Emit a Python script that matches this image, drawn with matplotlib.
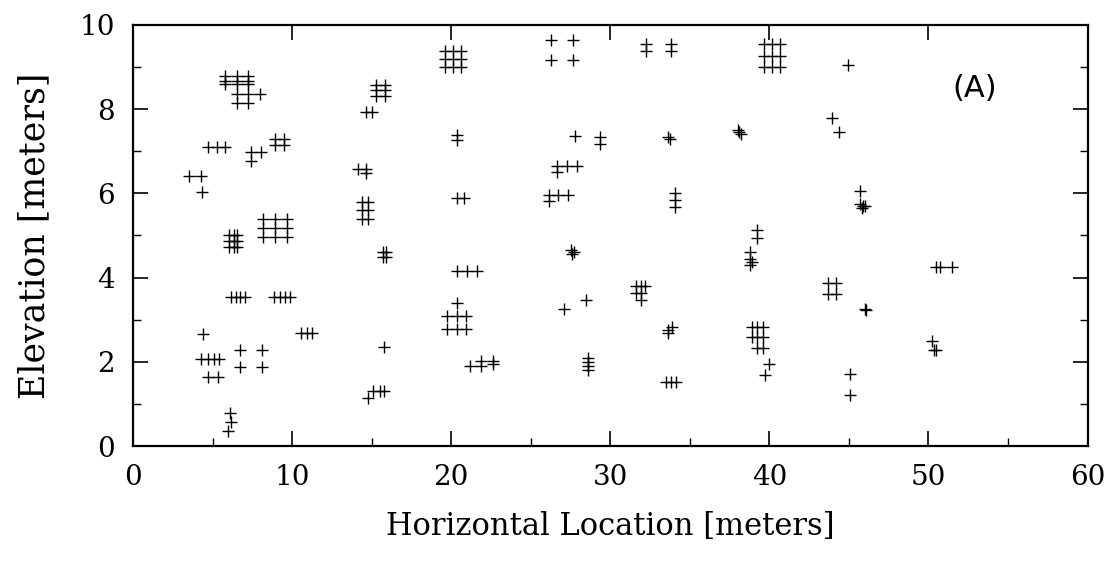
import matplotlib
matplotlib.use('Agg')
import matplotlib.pyplot as plt
from matplotlib.ticker import MultipleLocator
import numpy as np

plt.rcParams['font.family'] = 'DejaVu Serif'

# sensor positions (west part, x < 17 m)
x_west = [5.8, 6.56, 7.2, 5.8, 6.56, 7.2, 5.8, 6.56, 7.2, 6.56, 7.2, 8.0, 6.56, 7.2,
          4.69, 5.26, 5.81, 3.52, 4.27, 4.33, 7.39, 8.05, 7.39,
          8.94, 9.47, 8.94, 9.47,
          15.3, 15.84, 15.3, 15.84, 15.3, 15.84, 14.63, 14.99,
          14.14, 14.67, 14.67,
          14.42, 14.78, 14.42, 14.78, 14.42, 14.78,
          8.2, 8.94, 9.68, 8.2, 8.94, 9.68, 8.2, 8.94, 9.68,
          6.03, 6.32, 6.56, 6.03, 6.32, 6.56, 6.03, 6.32, 6.56,
          6.17, 6.45, 6.7, 7.03, 8.87, 9.25, 9.57, 9.85,
          10.57, 10.96, 11.27, 4.37,
          4.27, 4.69, 5.11, 5.43, 4.69, 5.33,
          6.71, 8.09, 6.71, 8.09, 6.07, 6.18, 5.97,
          15.7, 15.9, 15.7, 15.9, 15.8,
          15.1, 15.5, 15.8, 14.78]
y_west = [8.78, 8.78, 8.78, 8.68, 8.68, 8.68, 8.6, 8.6, 8.6, 8.35, 8.35, 8.35, 8.14, 8.14,
          7.1, 7.1, 7.1, 6.42, 6.42, 6.04, 6.99, 6.99, 6.78,
          7.28, 7.28, 7.15, 7.15,
          8.58, 8.58, 8.45, 8.45, 8.31, 8.31, 7.94, 7.94,
          6.58, 6.58, 6.49,
          5.79, 5.79, 5.61, 5.61, 5.40, 5.40,
          5.38, 5.38, 5.38, 5.18, 5.18, 5.18, 4.96, 4.96, 4.96,
          5.02, 5.02, 5.02, 4.88, 4.88, 4.88, 4.72, 4.72, 4.72,
          3.53, 3.53, 3.53, 3.53, 3.53, 3.53, 3.53, 3.53,
          2.69, 2.69, 2.69, 2.65,
          2.06, 2.06, 2.06, 2.06, 1.64, 1.64,
          2.28, 2.28, 1.87, 1.87, 0.79, 0.56, 0.35,
          4.6, 4.6, 4.5, 4.5, 2.36,
          1.30, 1.30, 1.30, 1.13]

# middle part, 19 m to 38 m
x_mid = [19.58, 20.1, 20.62, 19.58, 20.1, 20.62, 19.58, 20.1, 20.62,
         26.28, 27.67, 26.28, 27.67, 32.24, 33.8, 32.24, 33.8,
         20.37, 20.37, 27.78, 29.33, 29.33, 33.65, 33.75,
         38.0, 38.1, 38.2,
         26.64, 27.26, 27.88, 26.64, 20.37, 20.83,
         26.12, 26.74, 27.37, 26.12, 34.07, 34.07, 34.07,
         20.35, 20.97, 21.6,
         20.35, 19.75, 20.35, 20.93, 19.75, 20.35, 20.93,
         21.2, 21.9, 21.9, 22.6, 22.6,
         27.55, 27.7, 27.6, 28.45, 27.1,
         28.58, 28.58, 28.6, 28.58,
         31.6, 31.9, 32.2, 31.6, 31.9, 31.9,
         33.6, 33.9, 33.65, 33.5, 33.8, 34.1]
y_mid = [9.39, 9.39, 9.39, 9.2, 9.2, 9.2, 9.01, 9.01, 9.01,
         9.65, 9.65, 9.17, 9.17, 9.55, 9.55, 9.37, 9.37,
         7.38, 7.26, 7.37, 7.34, 7.18, 7.34, 7.3,
         7.5, 7.45, 7.4,
         6.64, 6.64, 6.64, 6.51, 5.89, 5.89,
         5.95, 5.95, 5.95, 5.81, 6.01, 5.85, 5.67,
         4.16, 4.16, 4.16,
         3.39, 3.09, 3.09, 3.09, 2.79, 2.79, 2.79,
         1.89, 1.89, 2.03, 2.03, 1.95,
         4.65, 4.6, 4.55, 3.47, 3.25,
         2.1, 2.0, 1.9, 1.8,
         3.79, 3.79, 3.79, 3.63, 3.63, 3.47,
         2.75, 2.83, 2.68, 1.52, 1.52, 1.52]

# east part, x > 38 m
x_east = [39.65, 40.17, 40.68, 39.65, 40.17, 40.68, 39.65, 40.17, 40.68,
          44.95, 43.96, 44.37, 45.7,
          45.7, 45.9, 45.8, 46.0,
          39.2, 39.2, 38.8, 38.8, 38.9, 38.8,
          43.7, 44.2, 43.7, 44.2, 46.0, 46.1,
          50.5, 50.75, 51.5, 50.2, 50.35, 50.5,
          38.9, 39.2, 39.6, 38.9, 39.2, 39.6, 39.2, 39.6,
          40.0, 39.7, 45.05, 45.05]
y_east = [9.55, 9.55, 9.55, 9.26, 9.26, 9.26, 9.0, 9.0, 9.0,
          9.06, 7.79, 7.46, 6.05,
          5.75, 5.7, 5.65, 5.7,
          5.12, 4.95, 4.6, 4.45, 4.38, 4.3,
          3.86, 3.86, 3.62, 3.62, 3.25, 3.22,
          4.25, 4.25, 4.25, 2.49, 2.28, 2.28,
          2.83, 2.83, 2.83, 2.59, 2.59, 2.59, 2.33, 2.33,
          1.95, 1.68, 1.72, 1.2]

horiz = np.array(x_west + x_mid + x_east)
elev = np.array(y_west + y_mid + y_east)

fig = plt.figure(figsize=(11.19, 5.65), dpi=100)
ax = fig.add_axes([0.1189, 0.2106, 0.853, 0.7452])

ax.plot(horiz, elev, '+', color='black', markersize=8.5, markeredgewidth=1.0)

ax.set_xlim(0, 60)
ax.set_ylim(0, 10)
ax.xaxis.set_major_locator(MultipleLocator(10))
ax.xaxis.set_minor_locator(MultipleLocator(5))
ax.yaxis.set_major_locator(MultipleLocator(2))
ax.yaxis.set_minor_locator(MultipleLocator(1))

ax.tick_params(which='major', direction='in', length=11, width=1.2,
               top=True, right=True, labelsize=20, pad=13)
ax.tick_params(which='minor', direction='in', length=6, width=1.0,
               top=False, right=True)
for s in ax.spines.values():
    s.set_linewidth(1.6)

ax.set_xlabel('Horizontal Location [meters]', fontsize=22, labelpad=14)
ax.set_ylabel('Elevation [meters]', fontsize=25, labelpad=20)
ax.text(52.9, 8.5, '(A)', fontsize=22, family='DejaVu Sans',
        ha='center', va='center')

fig.savefig('out.png', dpi=100)
